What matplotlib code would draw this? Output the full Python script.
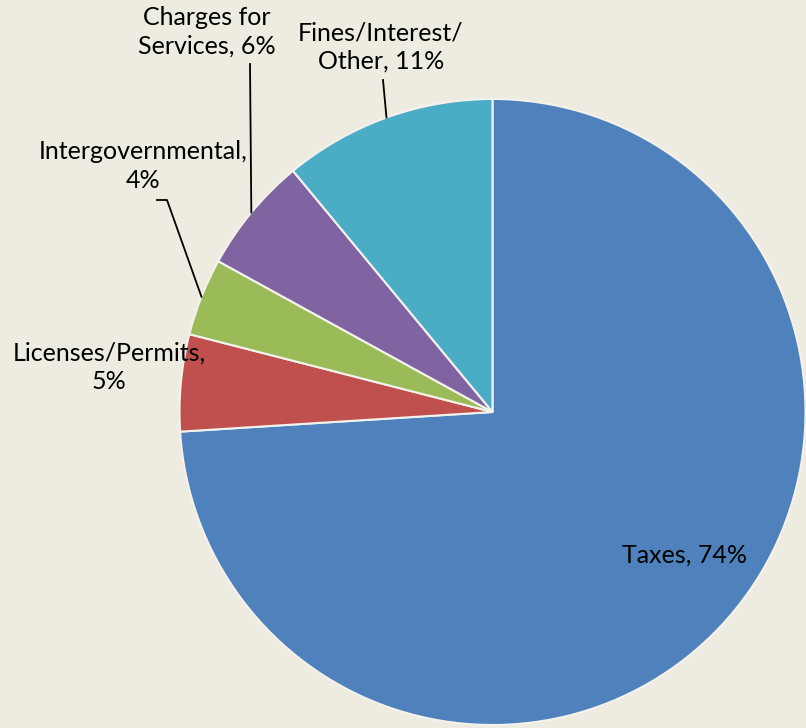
import matplotlib

matplotlib.use("Agg")
import matplotlib.pyplot as plt
import numpy as np

labels = ["Taxes", "Licenses/Permits", "Intergovernmental", "Charges for\nServices", "Fines/Interest/\nOther"]
shares = [74, 5, 4, 6, 11]
colors = ["#4F81BD", "#C0504D", "#9BBB59", "#8064A2", "#4BACC6"]

W, H = 806, 728
BG = "#EEECE1"
plt.rcParams["font.family"] = ["Lato", "DejaVu Sans"]

fig = plt.figure(figsize=(W / 100, H / 100), dpi=100, facecolor=BG)
ax = fig.add_axes([0, 0, 1, 1])
ax.set_facecolor(BG)

cx, cy, r = 492.5, H - 412, 313
wedges, _ = ax.pie(shares, colors=colors, startangle=90, counterclock=False,
                   center=(cx, cy), radius=r,
                   wedgeprops=dict(edgecolor="#F4F2EC", linewidth=1.5))
ax.set_xlim(0, W)
ax.set_ylim(0, H)
ax.axis("off")

txt = [f"{l}, {s}%" for l, s in zip(labels, shares)]
txt[1] = "Licenses/Permits,\n5%"
txt[2] = "Intergovernmental,\n4%"

# label centers (pixel coords from top) and leader line knee points
pos = [(684, 555), (109, 367), (143, 166), (207, 32), (381, 47)]
knee = [None, None, [(157, 200), (167, 200)], [(250, 64)], [(383, 80)]]

for i, (w, t, (px, py)) in enumerate(zip(wedges, txt, pos)):
    ax.text(px, H - py, t, ha="center", va="center", fontsize=18,
            color="black", linespacing=1.3)
    if knee[i]:
        mid = np.deg2rad((w.theta1 + w.theta2) / 2)
        ex, ey = cx + r * np.cos(mid), cy + r * np.sin(mid)
        xs = [k[0] for k in knee[i]] + [ex]
        ys = [H - k[1] for k in knee[i]] + [ey]
        ax.plot(xs, ys, color="black", lw=1.3)

fig.savefig("out.png", dpi=100, facecolor=BG)
